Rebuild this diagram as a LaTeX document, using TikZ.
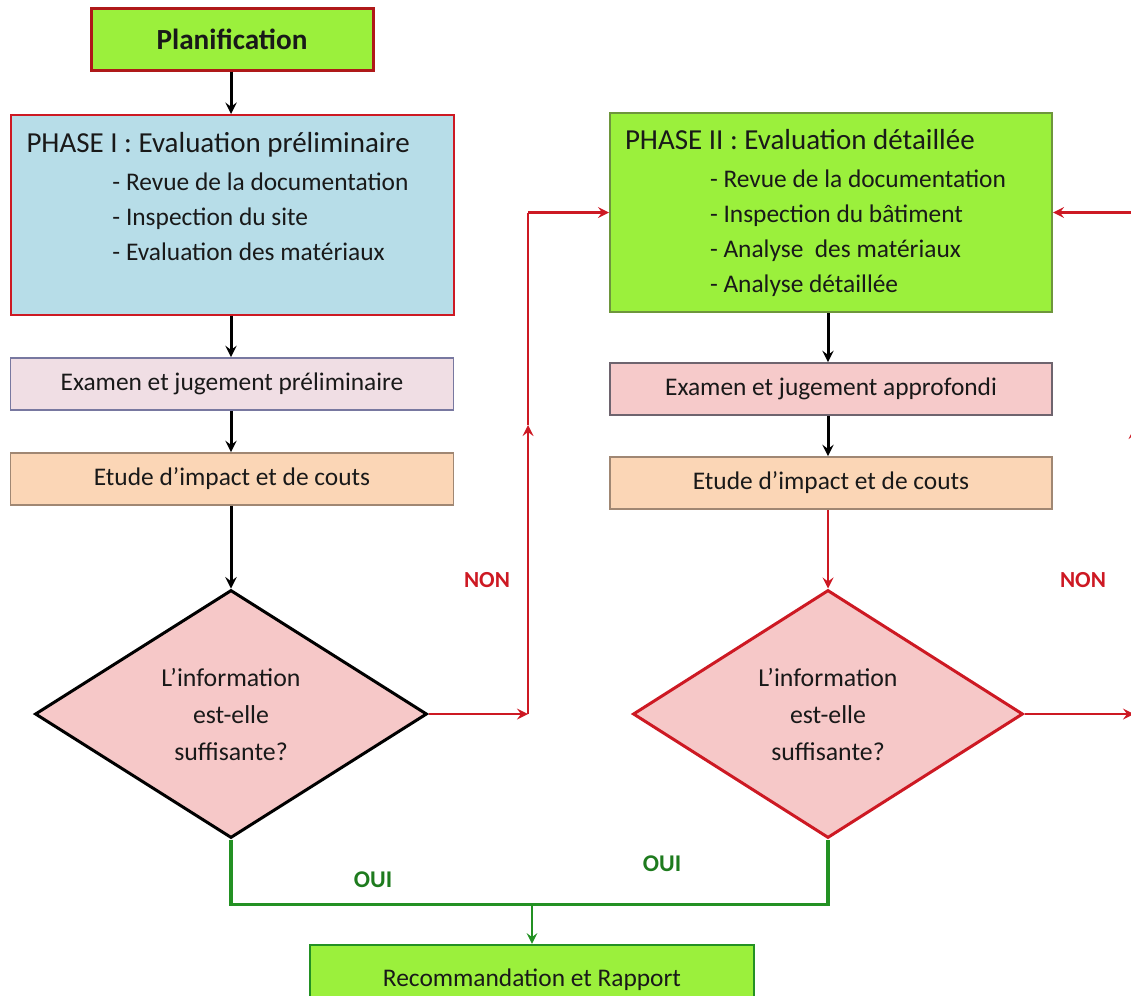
\documentclass[tikz,border=0pt]{standalone}
\usepackage{fontspec}
\setmainfont{Carlito}
\usepackage{xcolor}
\usetikzlibrary{shapes,arrows,positioning}

\definecolor{limefill}{RGB}{155,240,60}
\definecolor{phaseblue}{RGB}{183,221,232}
\definecolor{examlav}{RGB}{240,222,228}
\definecolor{exampink}{RGB}{246,202,202}
\definecolor{etudepeach}{RGB}{251,214,182}
\definecolor{testpink}{RGB}{246,200,200}
\definecolor{darkred}{RGB}{175,25,25}
\definecolor{linered}{RGB}{205,25,35}
\definecolor{linegreen}{RGB}{35,145,35}
\definecolor{textgray}{RGB}{25,25,25}

\newcommand{\boxfont}{\fontsize{12.7}{17.5}\selectfont}
\newcommand{\titlefont}{\fontsize{14.5}{18}\selectfont}

\begin{document}
\begin{tikzpicture}[x=0.5pt, y=-0.5pt,
  phase/.style={rectangle, line width=1pt, inner xsep=8pt, inner ysep=8.5pt, text=textgray},
  stage/.style={rectangle, line width=0.8pt, minimum width=221.5pt, minimum height=26pt, text=textgray, font=\boxfont},
  test/.style={diamond, fill=testpink, line width=1.5pt, minimum width=196pt, minimum height=124pt, inner sep=0pt, align=center, text=textgray, font=\fontsize{12.9}{18.5}\selectfont},
  result/.style={rectangle, fill=limefill, minimum width=222pt, minimum height=35pt, text=textgray},
  arrow/.style={line width=1.5pt,->,>=stealth},
  redarrow/.style={line width=1.4pt, draw=linered, ->, >=stealth},
  redline/.style={line width=1.4pt, draw=linered},
  greenline/.style={line width=1.6pt, draw=linegreen},
  greenarrow/.style={line width=1.3pt, draw=linegreen, ->, >=stealth},
  nonlabel/.style={text=linered, font=\fontsize{11.5}{13}\selectfont\bfseries},
  ouilabel/.style={text=linegreen!85!black, font=\fontsize{12}{13}\selectfont\bfseries}
]
\clip (0,0) rectangle (1131,996);

% Planning
\node[result, draw=darkred, line width=1.5pt, minimum width=141pt, minimum height=31pt, font=\fontsize{14.6}{16}\selectfont\bfseries] (plan) at (232,39) {Planification};

% Phase I column
\node[phase, draw=linered, fill=phaseblue] (phase1) at (232,215) {\parbox[t][83pt][t]{205.5pt}{\titlefont PHASE I : Evaluation préliminaire\par\vspace{1.5pt}\boxfont
\hspace*{43pt}- Revue de la documentation\\
\hspace*{43pt}- Inspection du site\\
\hspace*{43pt}- Evaluation des matériaux}};
\node[stage, draw={rgb,255:red,120;green,120;blue,160}, fill=examlav] (exam1) at (232,384) {Examen et jugement préliminaire};
\node[stage, draw={rgb,255:red,160;green,135;blue,115}, fill=etudepeach] (etude1) at (232,479) {Etude d’impact et de couts};
\node[test, draw=black] (test1) at (231,714) {L’information\\est-elle\\suffisante?};

% Phase II column
\node[phase, draw={rgb,255:red,110;green,150;blue,60}, fill=limefill, inner xsep=7.5pt] (phase2) at (831,212.5) {\parbox[t][82.75pt][t]{206pt}{\titlefont PHASE II : Evaluation détaillée\par\vspace{1.5pt}\boxfont
\hspace*{42.5pt}- Revue de la documentation\\
\hspace*{42.5pt}- Inspection du bâtiment\\
\hspace*{42.5pt}- Analyse \ des matériaux\\
\hspace*{42.5pt}- Analyse détaillée}};
\node[stage, draw={rgb,255:red,110;green,100;blue,110}, fill=exampink, minimum width=221pt] (exam2) at (831,389) {Examen et jugement approfondi};
\node[stage, draw={rgb,255:red,160;green,135;blue,115}, fill=etudepeach, minimum width=221pt] (etude2) at (831,483) {Etude d’impact et de couts};
\node[test, draw=linered, minimum width=195pt] (test2) at (828,714) {L’information\\est-elle\\suffisante?};

% Report
\node[result, draw=linegreen, line width=1.2pt, font=\boxfont] (report) at (532,980) {Recommandation et Rapport};

% Labels
\node[nonlabel] (non1) at (487,580) {NON};
\node[nonlabel] (non2) at (1083,580) {NON};
\node[ouilabel] (oui1) at (373,880) {OUI};
\node[ouilabel] (oui2) at (662,864) {OUI};

% Main flow
\draw[arrow] (plan.south -| test1.north) -- (phase1.north -| test1.north);
\draw[arrow] (phase1.south -| test1.north) -- (exam1.north -| test1.north);
\draw[arrow] (exam1.south -| test1.north) -- (etude1.north -| test1.north);
\draw[arrow] (etude1.south -| test1.north) -- (test1.north);
\draw[arrow] (phase2.south -| test2.north) -- (exam2.north -| test2.north);
\draw[arrow] (exam2.south -| test2.north) -- (etude2.north -| test2.north);
\draw[redarrow] (etude2.south -| test2.north) -- (test2.north);

% NON loops
\coordinate (c1) at (528,714);
\coordinate (m1) at (528,425);
\coordinate (c2) at (c1 |- phase2.west);
\draw[redarrow] (test1.east) -- (c1);
\draw[redarrow] (c1) -- (m1);
\draw[redline] (m1) -- (c2);
\draw[redarrow] (c2) -- (phase2.west);

\coordinate (c3) at (1134,714);
\coordinate (m2) at (1134,428);
\coordinate (c4) at (c3 |- phase2.east);
\draw[redarrow] (test2.east) -- (c3);
\draw[redarrow] (c3) -- (m2);
\draw[redline] (m2) -- (c4);
\draw[redarrow] (c4) -- (phase2.east);

% OUI branch
\draw[greenline] (test1.south) -- ++(0,65) coordinate (g1) -| (test2.south);
\coordinate (g2) at (g1 -| report.north);
\draw[greenarrow] (g2) -- (report.north);

\end{tikzpicture}
\end{document}
